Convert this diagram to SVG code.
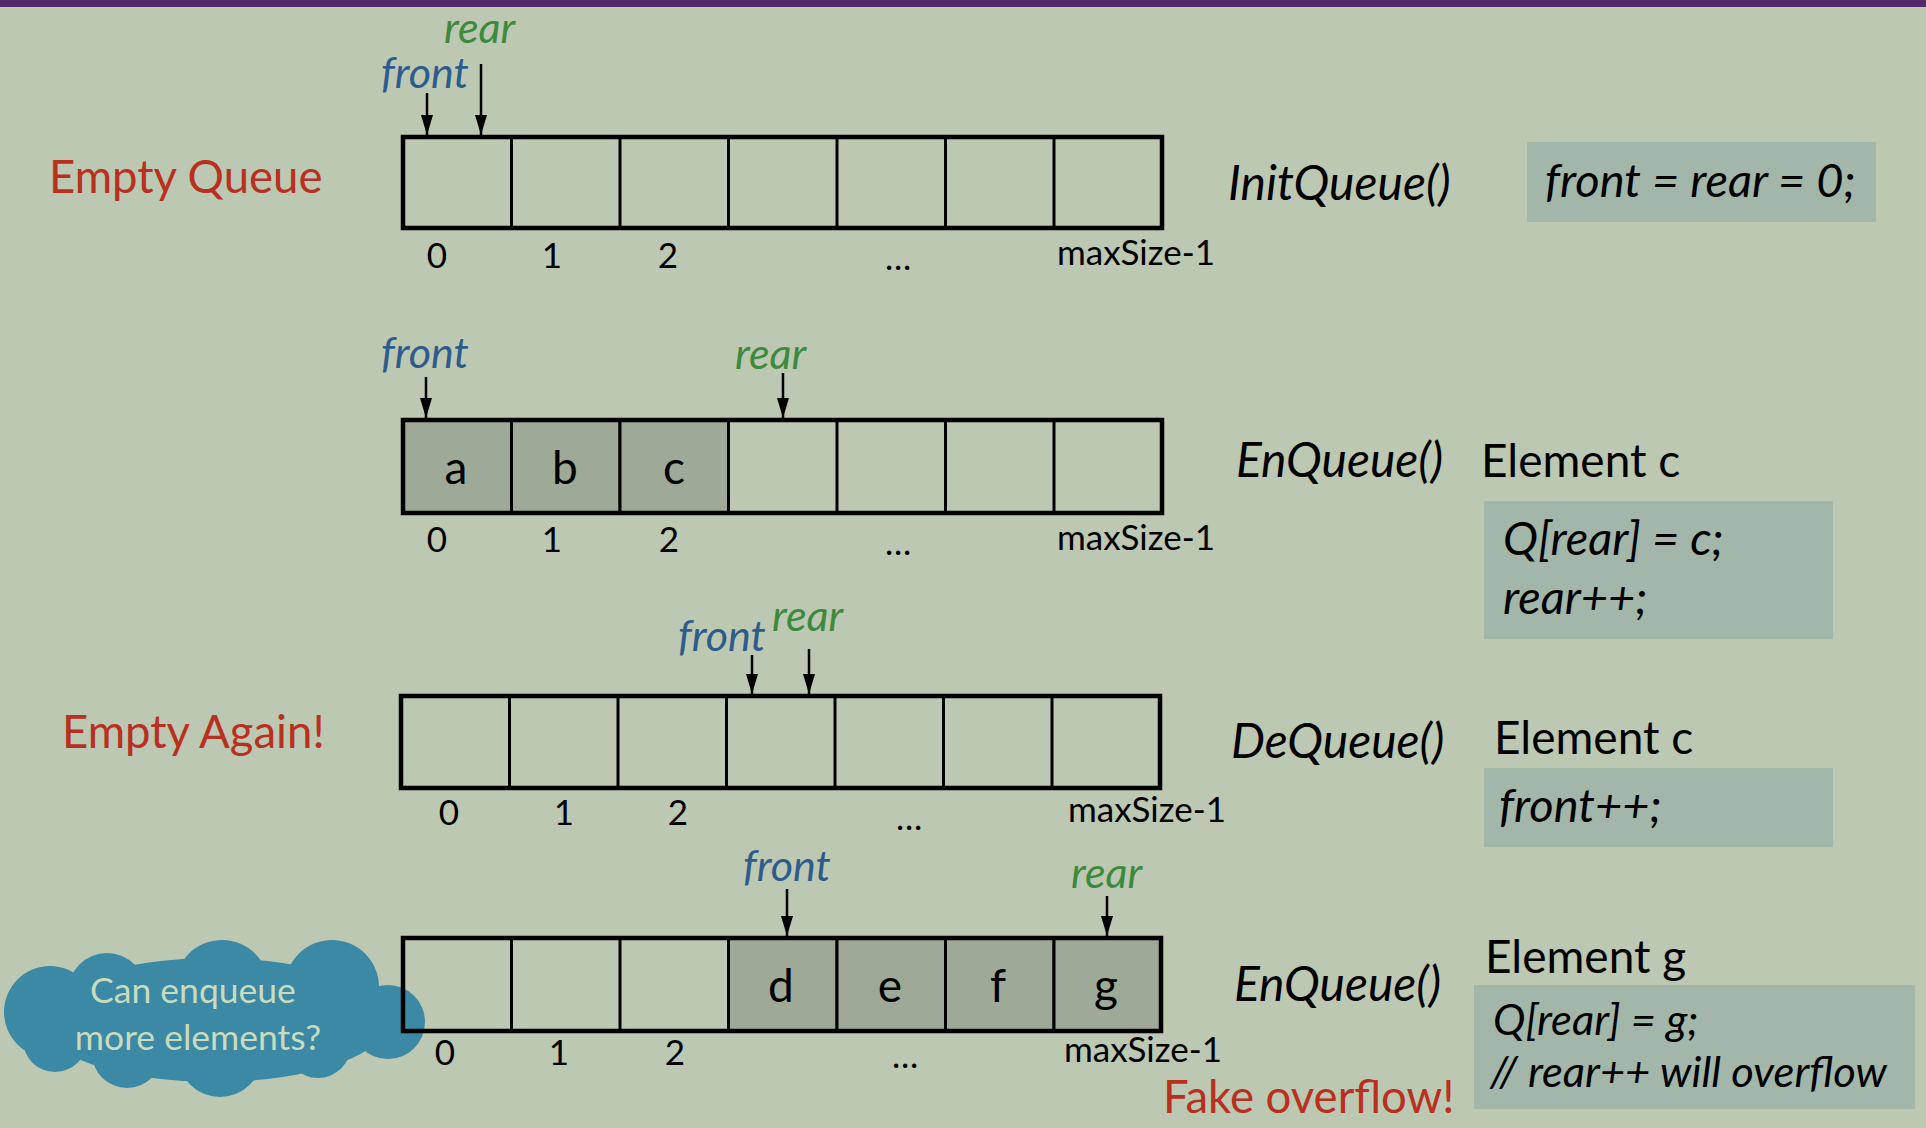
<svg xmlns="http://www.w3.org/2000/svg" width="1926" height="1128" viewBox="0 0 1926 1128">
<style>
text{font-family:Lato,"Liberation Sans",sans-serif;}
.idx{font-size:35px;fill:#000;text-anchor:middle;}
.lbl{font-size:46px;fill:#000;}
.it{font-style:italic;font-size:48px;}
.cd{font-style:italic;font-size:47px;fill:#000;}
.cd2{font-style:italic;font-size:43.5px;fill:#000;}
.red{font-size:45.5px;fill:#B8301F;}
.fr{font-size:43px;fill:#2D5C8C;font-style:italic;}
.re{font-size:43px;fill:#3C8A3E;font-style:italic;}
.code{fill:#A3B6AA;}
.cell{fill:none;stroke:#000;stroke-width:3;}
.full{fill:#9EAA97;stroke:#000;stroke-width:3;}
.outer{fill:none;stroke:#000;stroke-width:4.5;}
.letter{font-size:46px;fill:#000;text-anchor:middle;}
.arrow{stroke:#000;stroke-width:2.5;marker-end:url(#ah);}
</style>
<defs>
<marker id="ah" viewBox="0 0 20 12" refX="20" refY="6" markerWidth="20" markerHeight="12" markerUnits="userSpaceOnUse" orient="auto">
<path d="M0,0 L20,6 L0,12 z" fill="#000"/>
</marker>
</defs>
<rect x="0" y="0" width="1926" height="1128" fill="#BCC8B1"/>
<rect x="0" y="0" width="1926" height="7" fill="#54296A"/>

<g id="cloud">
<g fill="#3B89A5">
<circle cx="50" cy="1012" r="46"/>
<circle cx="107" cy="992" r="39"/>
<circle cx="222" cy="987" r="47"/>
<circle cx="332" cy="987" r="47"/>
<circle cx="388" cy="1022" r="37"/>
<circle cx="318" cy="1045" r="33"/>
<circle cx="220" cy="1055" r="42"/>
<circle cx="127" cy="1053" r="35"/>
<circle cx="55" cy="1040" r="32"/>
<ellipse cx="214" cy="1020" rx="175" ry="62"/>
</g>
<text x="193" y="1003" font-size="35.5" fill="#C9DBBE" text-anchor="middle">Can enqueue</text>
<text x="198" y="1050" font-size="35.5" fill="#C9DBBE" text-anchor="middle">more elements?</text>
</g>

<g id="row1">
<text class="red" x="49" y="193">Empty Queue</text>
<rect class="outer" x="403" y="137" width="759" height="91"/>
<path class="cell" d="M511.5,137V228M620,137V228M728.5,137V228M837,137V228M945.5,137V228M1054,137V228"/>
<text class="idx" x="437" y="268">0</text>
<text class="idx" x="552" y="268">1</text>
<text class="idx" x="668" y="268">2</text>
<text class="idx" x="898" y="270">…</text>
<text class="idx" x="1136" y="265">maxSize-1</text>
<text class="re" x="444" y="43">rear</text>
<text class="fr" x="381" y="88">front</text>
<text class="lbl it" x="1228" y="200">InitQueue()</text>
<rect class="code" x="1527" y="142" width="349" height="80"/>
<text class="cd" x="1545" y="197">front = rear = 0;</text>
</g>

<g id="row2">
<rect class="full" x="403" y="420" width="108.5" height="93"/>
<rect class="full" x="511.5" y="420" width="108.5" height="93"/>
<rect class="full" x="620" y="420" width="108.5" height="93"/>
<rect class="outer" x="403" y="420" width="759" height="93"/>
<path class="cell" d="M837,420V513M945.5,420V513M1054,420V513"/>
<text class="letter" x="456" y="484">a</text>
<text class="letter" x="565" y="484">b</text>
<text class="letter" x="674" y="484">c</text>
<text class="idx" x="437" y="552">0</text>
<text class="idx" x="552" y="552">1</text>
<text class="idx" x="669" y="552">2</text>
<text class="idx" x="898" y="555">…</text>
<text class="idx" x="1136" y="550">maxSize-1</text>
<text class="fr" x="381" y="368">front</text>
<text class="re" x="735" y="369">rear</text>
<text class="lbl it" x="1236" y="477">EnQueue()</text>
<text class="lbl" x="1481" y="477">Element c</text>
<rect class="code" x="1484" y="501" width="349" height="138"/>
<text class="cd" x="1503" y="555">Q[rear] = c;</text>
<text class="cd" x="1503" y="614">rear++;</text>
</g>

<g id="row3">
<text class="red" x="62" y="748">Empty Again!</text>
<rect class="outer" x="401" y="696" width="759" height="92"/>
<path class="cell" d="M509.5,696V788M618,696V788M726.5,696V788M835,696V788M943.5,696V788M1052,696V788"/>
<text class="idx" x="449" y="825">0</text>
<text class="idx" x="564" y="825">1</text>
<text class="idx" x="678" y="825">2</text>
<text class="idx" x="909" y="830">…</text>
<text class="idx" x="1147" y="822">maxSize-1</text>
<text class="fr" x="678" y="651">front</text>
<text class="re" x="772" y="631">rear</text>
<text class="lbl it" x="1231" y="758">DeQueue()</text>
<text class="lbl" x="1494" y="754">Element c</text>
<rect class="code" x="1484" y="768" width="349" height="79"/>
<text class="cd" x="1499" y="822">front++;</text>
</g>

<g id="row4">
<rect class="full" x="728.5" y="938" width="108.5" height="93"/>
<rect class="full" x="837" y="938" width="108.5" height="93"/>
<rect class="full" x="945.5" y="938" width="108.5" height="93"/>
<rect class="full" x="1054" y="938" width="107" height="93"/>
<rect class="outer" x="403" y="938" width="758" height="93"/>
<path class="cell" d="M511.5,938V1031M620,938V1031"/>
<text class="letter" x="781" y="1002">d</text>
<text class="letter" x="890" y="1002">e</text>
<text class="letter" x="998" y="1002">f</text>
<text class="letter" x="1106" y="1002">g</text>
<text class="idx" x="445" y="1065">0</text>
<text class="idx" x="559" y="1065">1</text>
<text class="idx" x="675" y="1065">2</text>
<text class="idx" x="905" y="1068">…</text>
<text class="idx" x="1143" y="1062">maxSize-1</text>
<text class="fr" x="743" y="881">front</text>
<text class="re" x="1071" y="888">rear</text>
<text class="lbl it" x="1234" y="1001">EnQueue()</text>
<text class="lbl" x="1485" y="973">Element g</text>
<rect class="code" x="1474" y="985" width="441" height="124"/>
<text class="cd2" x="1493" y="1035">Q[rear] = g;</text>
<text class="cd2" x="1490" y="1087">// rear++ will overflow</text>
<text class="red" x="1163" y="1113">Fake overflow!</text>
</g>

<g id="connectors">
<line class="arrow" x1="427" y1="93" x2="427" y2="135"/>
<line class="arrow" x1="481" y1="64" x2="481" y2="135"/>
<line class="arrow" x1="426" y1="377" x2="426" y2="418"/>
<line class="arrow" x1="783" y1="373" x2="783" y2="418"/>
<line class="arrow" x1="752" y1="655" x2="752" y2="694"/>
<line class="arrow" x1="809" y1="649" x2="809" y2="694"/>
<line class="arrow" x1="787" y1="889" x2="787" y2="936"/>
<line class="arrow" x1="1107" y1="896" x2="1107" y2="936"/>
</g>
</svg>
